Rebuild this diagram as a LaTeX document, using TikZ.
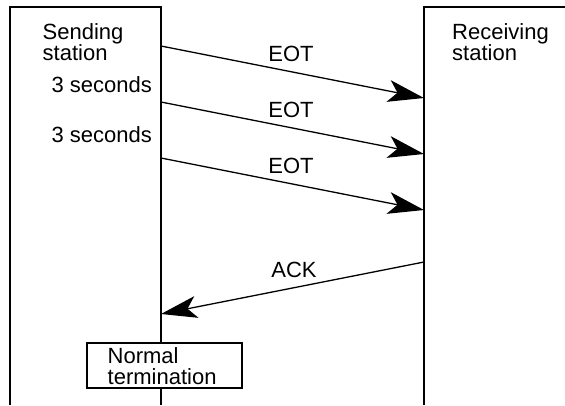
\documentclass[tikz,border=0pt]{standalone}
\usepackage{fontspec}
\setmainfont{Liberation Sans}
\usetikzlibrary{arrows.meta}
\tikzset{
  lbl/.style={inner sep=0pt, font=\fontsize{22}{21}\selectfont, align=left},
  frame/.style={line width=1.3pt},
  msg/.style={line width=1.3pt, -{Stealth[length=36pt,width=22pt,inset=9pt]}},
  termbox/.style={draw, fill=white, line width=1.3pt, minimum width=155pt, minimum height=45pt, inner sep=0pt},
}
\begin{document}
\begin{tikzpicture}[x=1pt,y=-1pt]
\useasboundingbox (0,0) rectangle (565,405);
% station frames
\coordinate (sbl) at (10,405);
\coordinate (stl) at (10,7);
\coordinate (str) at (161,7);
\coordinate (sbr) at (161,405);
\coordinate (rbl) at (424,405);
\coordinate (rtl) at (424,7);
\coordinate (rtr) at (565,7);
\draw[frame] (sbl) -- (stl) -- (str) -- (sbr);
\draw[frame] (rbl) -- (rtl) -- (rtr);
% message end points
\coordinate (s1) at (161,46);  \coordinate (r1) at (424,98);
\coordinate (s2) at (161,102); \coordinate (r2) at (424,154);
\coordinate (s3) at (161,158); \coordinate (r3) at (424,210);
\coordinate (ra) at (424,262); \coordinate (sa) at (161,314);
\draw[msg] (s1) -- (r1);
\draw[msg] (s2) -- (r2);
\draw[msg] (s3) -- (r3);
\draw[msg] (ra) -- (sa);
% labels
\node[lbl, anchor=base west] (snd) at (42.5,60) {Sending\\station};
\node[lbl, anchor=base west] (rcv) at (452,60) {Receiving\\station};
\node[lbl, anchor=base east] (t1) at (152,92) {3 seconds};
\node[lbl, anchor=base east] (t2) at (152,142) {3 seconds};
\node[lbl, anchor=base] (e1) at (291,61) {EOT};
\node[lbl, anchor=base] (e2) at (291,117) {EOT};
\node[lbl, anchor=base] (e3) at (291,173) {EOT};
\node[lbl, anchor=base] (ack) at (294,277) {ACK};
% normal termination
\node[termbox] (nt) at (164.5,365.5) {};
\node[lbl, anchor=base west] (ntt) at (107.5,384) {Normal\\termination};
\end{tikzpicture}
\end{document}
